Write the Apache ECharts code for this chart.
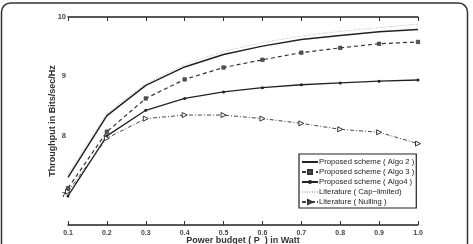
<!DOCTYPE html>
<html>
<head>
<meta charset="utf-8">
<script src="https://cdn.jsdelivr.net/npm/echarts@6/dist/echarts.min.js"></script>
<style>
html, body { margin: 0; padding: 0; background: #fff; }
#chart { width: 473px; height: 244px; }
</style>
</head>
<body>
<div id="chart"></div>
<script>
// power budget in Watt
var power = ['0.1', '0.2', '0.3', '0.4', '0.5', '0.6', '0.7', '0.8', '0.9', '1.0'];
// throughput, bits/sec/Hz
var algo2 = [7.30, 8.34, 8.85, 9.16, 9.37, 9.51, 9.62, 9.69, 9.75, 9.79];
var algo3 = [7.12, 8.07, 8.63, 8.95, 9.15, 9.28, 9.40, 9.48, 9.55, 9.58];
var algo4 = [6.99, 8.00, 8.43, 8.63, 8.74, 8.81, 8.86, 8.89, 8.92, 8.94];
var capLimited = [7.36, 8.38, 8.88, 9.20, 9.42, 9.57, 9.68, 9.76, 9.82, 9.88];
var nulling = [7.06, 7.96, 8.29, 8.35, 8.35, 8.29, 8.21, 8.11, 8.06, 7.87];

var names = [
  'Proposed scheme ( Algo 2 )',
  'Proposed scheme ( Algo 3 )',
  'Proposed scheme ( Algo4 )',
  'Literature ( Cap\u2212limited)',
  'Literature ( Nulling )'
];

var chart = echarts.init(document.getElementById('chart'));
var fnt = 'Liberation Sans, Arial, sans-serif';
var axisCommon = {
  axisLine: { lineStyle: { color: '#222', width: 1.5 } },
  axisTick: { inside: true, length: 4, lineStyle: { color: '#333' } },
  splitLine: { show: false }
};
var noMark = { color: 'transparent', borderWidth: 0 };

chart.setOption({
  animation: false,
  textStyle: { fontFamily: fnt },
  graphic: [{
    type: 'rect',
    shape: { x: 1.5, y: 3, width: 466, height: 260, r: 9 },
    style: { fill: 'none', stroke: '#333', lineWidth: 1.5 },
    silent: true
  }],
  grid: { left: 68, top: 17, right: 55, bottom: 19, outerBoundsMode: 'none' },
  legend: {
    orient: 'vertical',
    left: 299,
    top: 154,
    padding: [4, 2, 2, 2],
    itemGap: 2,
    itemWidth: 16,
    itemHeight: 5,
    borderColor: '#222',
    borderWidth: 1.2,
    backgroundColor: '#fff',
    textStyle: { fontSize: 7.7, color: '#222', padding: [0, 0, 0, -4] },
    data: [
      { name: names[0], itemStyle: noMark },
      { name: names[1] },
      { name: names[2] },
      { name: names[3], itemStyle: noMark },
      { name: names[4] }
    ]
  },
  xAxis: [
    Object.assign({
      type: 'category',
      data: power,
      boundaryGap: false,
      name: 'Power budget ( P  ) in Watt',
      nameLocation: 'middle',
      nameGap: 11,
      nameMoveOverlap: false,
      nameTextStyle: { fontSize: 9, fontWeight: 'bold', color: '#333' },
      axisLabel: { fontSize: 7, fontWeight: 'bold', color: '#444', margin: 5 }
    }, axisCommon),
    Object.assign({
      type: 'category',
      data: power,
      boundaryGap: false,
      position: 'top',
      axisLabel: { show: false }
    }, axisCommon)
  ],
  yAxis: [
    Object.assign({
      type: 'value',
      min: 6.5,
      max: 10,
      interval: 0.5,
      name: 'Throughput in Bits/sec/Hz',
      nameLocation: 'middle',
      nameGap: 11,
      nameMoveOverlap: false,
      nameTextStyle: { fontSize: 9, fontWeight: 'bold', color: '#333' },
      axisLabel: {
        fontSize: 7.5, fontWeight: 'bold', color: '#444', margin: 2,
        formatter: function (v) { return (v % 1 === 0 && v > 6.5) ? String(v) : ''; }
      }
    }, axisCommon),
    Object.assign({
      type: 'value',
      min: 6.5,
      max: 10,
      interval: 0.5,
      position: 'right',
      axisLabel: { show: false }
    }, axisCommon)
  ],
  series: [
    {
      name: names[0], type: 'line', data: algo2, symbol: 'none',
      lineStyle: { color: '#222', width: 1.5 }, itemStyle: { color: '#222' }
    },
    {
      name: names[1], type: 'line', data: algo3, symbol: 'rect', symbolSize: 3.5,
      lineStyle: { color: '#333', width: 1.2, type: [4, 3] },
      itemStyle: { color: '#555', borderColor: '#333', borderWidth: 0.6 }
    },
    {
      name: names[2], type: 'line', data: algo4, symbol: 'circle', symbolSize: 3,
      lineStyle: { color: '#222', width: 1.3 }, itemStyle: { color: '#222' }
    },
    {
      name: names[3], type: 'line', data: capLimited, symbol: 'none',
      lineStyle: { color: '#bbb', width: 1, type: [1, 1.5] }, itemStyle: { color: '#bbb' }
    },
    {
      name: names[4], type: 'line', data: nulling, symbol: 'triangle', symbolSize: 5,
      symbolRotate: -90,
      lineStyle: { color: '#444', width: 1, type: [4, 2, 1, 2] },
      itemStyle: { color: '#fff', borderColor: '#333', borderWidth: 1 }
    }
  ]
});
</script>
</body>
</html>
